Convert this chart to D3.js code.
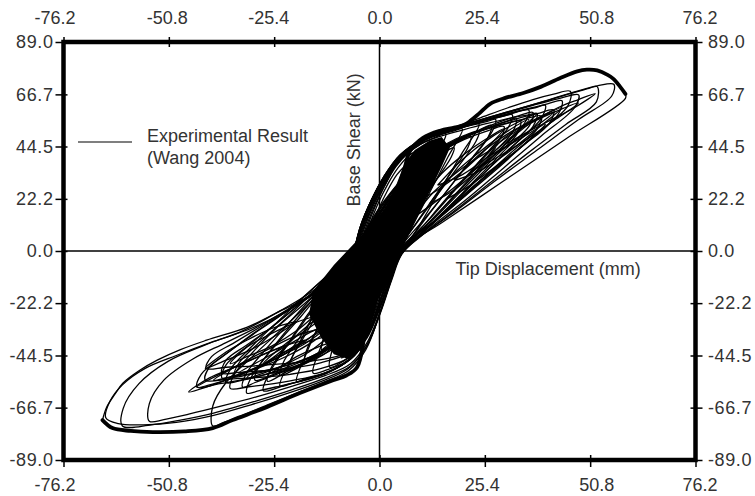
<!DOCTYPE html>
<html>
<head>
<meta charset="utf-8">
<script src="https://cdn.jsdelivr.net/npm/d3@7"></script>
<style>
  body { margin: 0; background: #fff; }
  svg { display: block; }
</style>
</head>
<body>
<svg id="chart"></svg>
<script>
// tick values (mm / kN)
const xTicks = [-76.2, -50.8, -25.4, 0, 25.4, 50.8, 76.2];
const yTicks = [-89.0, -66.7, -44.5, -22.2, 0, 22.2, 44.5, 66.7, 89.0];

// dense black band around the origin (many overlapping reloading branches)
const denseCore = [
  [-16, -17], [-11, -6], [-6.5, 2.5], [-2.5, 10], [1.5, 18], [4, 28], [6, 37], [8.5, 43],
  [12, 47], [15, 48.5], [17, 44], [15, 36], [12, 25], [9, 14], [6, 3], [4, -3], [2, -9],
  [0.5, -16], [-1, -25], [-2.5, -34], [-4.5, -42], [-7.5, -46], [-11, -44], [-14, -37], [-17, -27]
];

// hysteresis cycles, [displacement mm, base shear kN]
const loop1 = [[-2.5,0],[-1.2,7],[0.5,13],[2,17],[3,18.5],[2.3,11],[1.5,3],[0.6,-4],[-0.6,-11],[-2,-16],[-3,-18],[-2.8,-10],[-2.5,0]];
const loop2 = [[-3,0.5],[-1.7,8],[0.2,16],[2.2,23],[4,27.5],[5,29],[4,20],[3,11],[2,2],[0.8,-7],[-0.8,-16],[-2.7,-24],[-4.2,-28.5],[-5,-30],[-4.4,-20],[-3.7,-10],[-3,0.5]];
const loop3 = [[-3.5,0.5],[-2.2,9],[-0.2,18],[2,26],[4.2,32.5],[6,36],[7,37.5],[5.6,27],[4.2,16],[3,6],[2,-2],[0.5,-12],[-1.5,-23],[-3.7,-32],[-5.7,-37],[-7,-39],[-6.2,-28],[-5,-15],[-4,-5],[-3.5,0.5]];
const loop4 = [[-4,1],[-2.6,10],[-0.4,20],[2,28.5],[4.5,35.5],[7,40.5],[9,42.5],[7.4,31],[5.6,18],[4,6],[3,-1],[1.3,-10],[-0.7,-21],[-3,-32],[-5.5,-40],[-7.7,-44],[-9.2,-45.5],[-8.2,-35],[-7,-23],[-5.5,-10],[-4,1]];
const loop5 = [[-4.5,1],[-3,10],[-0.8,20],[1.6,29],[4,36],[6.8,41.5],[9.5,45],[12,47],[10,35],[7.8,22],[5.6,9],[3.8,0],[2,-9],[-0.2,-21],[-2.7,-33],[-5.5,-42],[-8.8,-47],[-12,-49.5],[-10.8,-38],[-9.2,-26],[-7.2,-13],[-4.5,1]];
const loop6 = [[-5,1],[-3.3,10],[-1,20],[1.6,29],[4.2,37],[7.3,42.5],[10.5,46],[13.5,48.5],[16,50],[13,38],[10.2,26],[7.5,14],[5,3],[4,-1],[2.2,-10],[0.2,-21],[-2.3,-33],[-5,-42],[-8.5,-47.5],[-12.5,-50.5],[-16,-52],[-14,-40],[-11.8,-28],[-9.5,-16],[-7,-6],[-5,1]];
const loop7 = [[-5.2,1],[-3.6,10],[-1.3,20],[1.3,29],[4,37],[7,43],[10.5,47],[14.5,49.5],[18,51.2],[20,52],[16.5,40],[13,28],[9.5,16],[6.2,5],[4.2,-1],[2.2,-10],[0,-22],[-2.5,-34],[-5.5,-43.5],[-9.5,-49],[-14,-52.5],[-18,-54.5],[-20,-55.5],[-17.5,-43],[-14.5,-31],[-11.5,-19],[-8.2,-8],[-5.2,1]];
const loop8 = [[-5.4,1],[-3.8,10],[-1.5,20],[1.2,29],[4,37],[7.5,43.5],[11.5,48],[16,50.5],[20,52.5],[24,54],[20,42],[16,30],[12,18],[8,6.5],[4.4,-1],[2.2,-11],[-0.2,-23],[-2.8,-35],[-6,-44.5],[-10.5,-50],[-15.5,-53.5],[-20.5,-56],[-24,-57.5],[-21,-45],[-17.5,-33],[-14,-21],[-10,-10],[-5.4,1]];
const loop9 = [[-5.5,1],[-4,10],[-1.6,20],[1.2,29.5],[4.2,37.5],[8,44],[12.5,48.5],[17.5,51.5],[22,53.5],[26,55.2],[28,56],[27.2,51],[22.5,40],[17.5,28.5],[12.5,17],[8,6.5],[4.5,-1],[2.2,-11],[-0.3,-23],[-3,-35.5],[-6.5,-45],[-11.5,-51],[-17,-54.5],[-22.5,-57],[-28,-59.5],[-27,-53.5],[-23,-42],[-18.5,-30],[-14,-19],[-9.5,-8.5],[-5.5,1]];
const loop10 = [[-5.6,1],[-4.1,10.5],[-1.7,20.5],[1.2,30],[4.4,38],[8.3,44.5],[13,49],[18.5,52],[24,54.8],[29,57],[32,58],[31.2,53],[26,42],[20.5,31],[15,20],[9.5,8.5],[4.6,-1],[2.4,-11],[-0.2,-23.5],[-3.1,-36],[-6.8,-45.5],[-12,-51.5],[-18,-55],[-24,-57.5],[-29,-59.5],[-32,-60.5],[-31,-54],[-27,-44],[-22,-33],[-16.5,-21.5],[-11,-10],[-5.6,1]];
const loop11 = [[-5.8,1],[-4.2,10.5],[-1.8,21],[1.1,30.5],[4.5,38.5],[8.5,45],[13.5,49.5],[19.5,52.5],[25.5,55.5],[31,58],[36,60],[35,54.5],[29.5,44],[23,32.5],[16.5,20.5],[10,8.5],[4.8,-1],[2.6,-11],[0,-24],[-3,-36.5],[-7,-46],[-12.5,-51.5],[-19,-54.5],[-25.5,-56.5],[-31.5,-57.8],[-36,-58.5],[-35,-52.5],[-30.5,-43],[-25,-33],[-17.5,-21.5],[-10,-9],[-5.8,1]];
const loop12 = [[-5.9,1],[-4.3,10.5],[-1.9,21],[1.1,30.5],[4.6,39],[9,45.5],[14.5,50],[21,53.5],[27,56.5],[33,59.3],[37.5,61],[40,62],[39,56.5],[33,46],[26,34.5],[19,22.5],[11.5,10],[5,-1],[2.7,-11],[0.1,-24],[-3,-37],[-7.5,-45.5],[-14,-50],[-21.5,-52.5],[-29,-53.8],[-36,-54.5],[-42,-55],[-41,-49.5],[-36,-42.5],[-29.5,-34],[-20.5,-23.5],[-11,-12],[-5.9,1]];
const loop13 = [[-6,1],[-4.4,11],[-2,21.5],[1,31],[4.6,39.5],[9.3,46],[15,50.5],[22,54],[29,57.5],[35.5,60.5],[40.5,62.7],[44,64],[43,58],[36.5,48],[29,36],[21,24],[12.5,11],[5.2,-1],[2.8,-11],[0.2,-24],[-3,-36],[-8,-43.5],[-15,-46.5],[-23,-48],[-31,-49],[-37,-49.5],[-41.8,-50],[-40.5,-45],[-35,-39],[-28,-31.5],[-19,-22],[-10,-10.5],[-5.5,1]];
const loop14 = [[-6,1],[-4.4,11],[-2,21.5],[1,31],[4.7,40],[9.5,46.5],[15.5,51],[23,55],[30,58.5],[37,62],[43,64.8],[48,66.5],[47,61],[39,49],[30,35.5],[21,22],[12,9.5],[5.5,-1],[3,-11],[0.3,-25],[-3,-39],[-7,-48],[-13,-53],[-21,-57.5],[-29.5,-62],[-38,-66],[-46,-69.5],[-52,-71.8],[-55.5,-72.5],[-55.5,-65],[-52,-55],[-45,-46],[-37,-39],[-28,-31],[-20,-22.5],[-11,-11],[-6,1]];
const loop15 = [[-6,1],[-4.5,11],[-2,21.5],[1,31.5],[4.8,40.5],[9.8,47],[16,51.5],[24,55.7],[32,59.8],[40,63.8],[46,67],[50.5,69.3],[52.5,70],[52.3,63.5],[45,54],[36,42],[27,29.5],[18,17],[10.5,7],[5.5,-1],[3,-12],[0.3,-26],[-3,-40],[-7,-49],[-13,-54],[-21,-59],[-30,-64],[-40,-69],[-48,-72],[-55,-74],[-62,-74.5],[-61.8,-67],[-58,-56.5],[-51,-47],[-42,-40],[-33,-34],[-24,-25.5],[-15,-15.5],[-6,1]];
const loop16 = [[-6,1],[-4.5,11],[-2,21.5],[1,31.5],[5,41],[10.5,47.5],[17,51.8],[25,56.2],[33,60.3],[41,64.5],[47.5,68],[52.5,70.3],[56.5,71],[56,66],[48,56],[38,43],[28,30],[18,16.5],[10,6.5],[5,-1],[2.8,-12],[0.2,-26],[-3.2,-41],[-7.5,-50],[-14,-55.5],[-22,-60.5],[-31,-65.5],[-40,-70],[-49,-73],[-57,-74],[-63,-73.5],[-66,-71],[-65,-64],[-62,-57],[-56.5,-50],[-49,-44.5],[-40,-38.5],[-31,-33],[-22,-25],[-14,-15.5],[-6,1]];
const loop17 = [[-6,1],[-4.5,11],[-2,21.5],[1,31.5],[5,41],[10.5,47.8],[17,52],[24,56.5],[31,61],[37,64.5],[42,66.8],[46,68],[45.5,62],[38,50],[29,37],[20,23.5],[11.5,9.5],[5.2,-1],[2.9,-12],[0.2,-26],[-3.3,-42],[-7.5,-51],[-13,-55.5],[-20,-60.5],[-27,-65.5],[-33,-70],[-37.5,-73],[-40.2,-74.5],[-40.2,-66],[-37,-56],[-31,-45.5],[-24,-34],[-17,-22.5],[-10,-10],[-6,1]];
// repeated cycles at the same amplitude (softer reloading)
const loop6c = [[-4.6,0],[-2.3,7],[0.3,14.5],[3.2,22],[6.5,29.5],[9.5,34.5],[12.5,38.5],[14,40],[13.3,36],[10.5,26],[7.5,15],[4.2,0.5],[2.3,-7],[0,-14.5],[-3,-22.5],[-6.3,-30],[-9.5,-36],[-12.5,-40],[-14,-42],[-13.3,-37],[-11,-28],[-8,-15],[-4.6,0]];
const loop7b = [[-4.8,0],[-2.5,7],[0,14],[3,22],[6.5,30],[10,36],[13.5,40.5],[16.5,43],[18,44],[17.3,40],[14,31],[10.5,21.5],[7,11.5],[4.2,0.5],[2.5,-7],[0,-15],[-3,-23],[-6.5,-31],[-10,-37.5],[-13.5,-42],[-16.5,-45],[-18,-46],[-17.3,-41],[-14.5,-32],[-11.5,-22],[-8,-10.5],[-4.8,0]];
const loop8b = [[-5,0],[-2.5,8],[0.5,16],[4,25],[8,33.5],[12,39.5],[16,44],[19.5,47],[22,48.8],[21.3,44],[17.5,34],[13,22.5],[8.5,11],[4.4,0.5],[2.6,-7.5],[0,-16],[-3.5,-25.5],[-7.5,-33.5],[-11.5,-39.5],[-15.5,-44.5],[-19,-48.5],[-22,-51],[-21.3,-46],[-18,-36],[-14,-24],[-9.5,-11.5],[-5,0]];
const loop8c = [[-5.1,0.5],[-2.5,9],[0.8,18],[4.5,27.5],[8.5,35.5],[12.5,41.5],[16.5,46],[20.5,49.2],[24,51],[23.2,46.5],[19,36],[14,24],[9,12],[4.5,0.5],[2.6,-8],[0,-17],[-3.8,-27],[-8,-35.5],[-12.5,-42],[-16.5,-46.5],[-20.5,-50.5],[-24,-53],[-23.2,-47.5],[-19.5,-37.5],[-15,-25.5],[-10,-12.5],[-5.1,0.5]];
const loop9b = [[-5.2,0],[-2.5,8.5],[0.8,17.5],[5,27.5],[9.5,35.5],[14,41.5],[18.5,46],[23,50.5],[27,53.5],[26.2,48.5],[21.5,37.5],[16,25],[10.5,13],[4.6,0.5],[2.7,-7.5],[0,-16.5],[-4,-27.5],[-8.5,-36],[-13,-42],[-18,-47.5],[-22.5,-51.5],[-27,-55.5],[-26.2,-50],[-22,-39.5],[-17,-27],[-11.5,-13.5],[-5.2,0]];
const loop9c = [[-5.3,0.5],[-2.5,9.5],[1,19],[5.5,29.5],[10.5,37.5],[15.5,43],[20.5,47.5],[25.5,50.8],[30,53],[29.2,48],[24,37.5],[18,25.5],[11.5,12.5],[4.6,0],[2.7,-8],[0,-17.5],[-4.2,-28.5],[-9,-37.5],[-14.5,-44],[-20,-49],[-25.5,-52.5],[-30,-55],[-29.2,-49.5],[-24.5,-39],[-19,-28],[-12.5,-14],[-5.3,0.5]];
const loop10b = [[-5.4,0],[-2.6,9],[1,18.5],[5.5,29],[10.5,37.5],[16,44],[21.5,49],[27,53],[31,55.5],[33,56.5],[32.2,51],[27,41],[20.5,28.5],[13.5,15],[7,3.5],[4.7,0],[2.8,-7.5],[0,-17],[-4.2,-28.5],[-9,-37.5],[-14.5,-44],[-20,-49],[-25.5,-53],[-30,-56],[-33,-58],[-32.2,-52.5],[-27.5,-42],[-21.5,-30],[-14.5,-16.5],[-9,-6.5],[-5.4,0]];
const loop10c = [[-5.5,0.5],[-2.6,10],[1,20],[6,31],[11.5,39.5],[17,45.5],[22.5,50],[28,53.2],[31.5,54.8],[34,55.5],[33.2,50],[27.5,39.5],[20.5,27],[13,13.5],[4.7,0],[2.8,-8.5],[0,-18],[-4.5,-29.5],[-10,-38.5],[-16,-44.5],[-22,-48.5],[-28,-51.5],[-32,-52.8],[-35,-53.5],[-34,-48],[-29,-39],[-23,-29.5],[-16,-17.5],[-5.5,0.5]];
const loop11b = [[-5.5,0],[-2.7,9.5],[1,19],[6,30],[11.5,39],[17.5,46],[23.5,51],[29,55],[33.5,57.5],[37,59],[36.2,53.5],[30.5,43.5],[23.5,31],[16,17.5],[8.5,5],[4.8,0],[2.8,-8],[0,-17.5],[-4.5,-29.5],[-9.5,-38],[-15.5,-44.5],[-21.5,-49],[-27.5,-52.5],[-33,-55],[-37,-56],[-36,-50.5],[-31,-41],[-24.5,-30],[-17,-17.5],[-10,-6.5],[-5.5,0]];
const loop11c = [[-5.6,0.5],[-2.7,10],[1,20.5],[6.5,32],[12.5,41],[19,47.5],[25,51.5],[31,54.5],[35.5,56.5],[39,57.5],[38,52],[31.5,41.5],[24,29.5],[15.5,16],[4.8,0],[2.8,-8.5],[0,-18.5],[-4.8,-30.5],[-10.5,-39.5],[-17,-45.5],[-24,-49.5],[-30.5,-52],[-35,-53.3],[-38,-54],[-37,-48.5],[-31.5,-40],[-25,-31],[-17,-19],[-5.6,0.5]];
const loop12b = [[-5.8,1],[-4.2,10.5],[-1.8,21],[1.1,30.5],[4.5,38.5],[8.5,44.5],[14,48.5],[20,51.5],[26,54.3],[32,56.8],[36,58],[38,58.6],[37,53],[31,43],[24.5,32],[18,21],[11,9],[4.9,-1],[2.6,-11],[0,-24],[-3,-36],[-7.5,-43.5],[-14,-47.5],[-21,-49.8],[-28,-51],[-34,-51.7],[-38,-52],[-37,-46.5],[-32,-40],[-26,-32.5],[-19.5,-23],[-12,-11.5],[-5.8,1]];
const loop13c = [[-5.8,0.5],[-2.8,10.5],[1,21],[6.5,32.5],[13,42],[20,48.5],[27,53],[33,56.3],[38,58.5],[42,60],[41,54.5],[34,44],[26,32],[17,18],[4.9,0],[2.9,-8.5],[0,-19],[-5,-32],[-11,-41.5],[-18,-47.5],[-25,-51.5],[-32,-54.5],[-38.5,-56.5],[-44,-58],[-43,-52.5],[-37.5,-44.5],[-30.5,-35.5],[-22,-25],[-5.8,0.5]];

// small partial cycles (leaf-shaped sub-loops) inside each lobe
const leafP1 = [[14,28],[20,39],[27,48.5],[33,54.5],[38,58.5],[33,50.5],[26,40],[20,32.5],[14,28]];
const leafP2 = [[18,30],[24,41],[31,50],[38,56.5],[44,61],[38,52],[31,42],[24,34],[18,30]];
const leafP3 = [[10,22],[15,33],[21,42],[26,48],[30,52],[26,44],[20,34],[14,26],[10,22]];
const leafP4 = [[22,34],[28,45],[35,53],[42,59],[48,63],[42,55.5],[35,47],[28,39.5],[22,34]];
const leafP5 = [[26,40],[30,48],[36,54.5],[42,59],[36,51],[30,44],[26,40]];
const leafP6 = [[12,20],[18,33],[24,42],[30,50],[36,56],[30,45],[24,35],[18,26],[12,20]];
const leafP7 = [[30,45],[36,54],[43,61],[48,64.5],[52,67],[47,61],[41,55.5],[35,50],[30,45]];
const leafP8 = [[8,14],[13,25],[19,34],[24,40],[28,44],[24,36.5],[18,27],[12,19],[8,14]];
const leafP9 = [[16,22],[22,33],[29,42.5],[35,49],[40,54],[35,45.5],[28,36],[21,27],[16,22]];
const leafN1 = [[-10,-30],[-16,-34],[-22,-40],[-28,-46],[-34,-52],[-28,-49],[-22,-44.5],[-16,-38.5],[-10,-30]];
const leafN2 = [[-14,-33],[-20,-36],[-27,-42],[-34,-48.5],[-40,-55],[-34,-52.5],[-27,-47.5],[-20,-41],[-14,-33]];
const leafN3 = [[-8,-24],[-13,-28],[-18,-34],[-23,-40],[-28,-48],[-23,-44],[-18,-39.5],[-13,-33],[-8,-24]];
const leafN4 = [[-18,-38],[-24,-41],[-31,-46.5],[-38,-52],[-44,-58],[-38,-55.5],[-31,-51],[-24,-45],[-18,-38]];
const leafN5 = [[-12,-36],[-18,-39],[-24,-44],[-28,-48.5],[-32,-54],[-28,-52],[-23,-48.5],[-17,-43],[-12,-36]];
const leafN6 = [[-20,-30],[-26,-33],[-32,-38],[-37,-43],[-42,-50],[-37,-46.5],[-31,-42],[-25,-36],[-20,-30]];
const leafN7 = [[-6,-20],[-11,-24],[-16,-30],[-20,-36],[-24,-44],[-20,-40],[-15,-35],[-10,-28],[-6,-20]];
const leafN8 = [[-16,-28],[-21,-31],[-27,-36],[-32,-41],[-36,-48],[-32,-45],[-26,-40.5],[-20,-34],[-16,-28]];
const leafN9 = [[-22,-40],[-28,-44],[-35,-49.5],[-41,-54],[-46,-60],[-41,-57.5],[-34,-53],[-27,-47],[-22,-40]];
const leafN10 = [[-10,-38],[-15,-41],[-20,-45],[-23,-48.5],[-26,-52],[-23,-51],[-18,-48],[-13,-43.5],[-10,-38]];

// first (envelope) excursion, drawn heavier
const posEnvelope = [[0,-3],[1,5],[2.2,13],[4.2,25],[6,35],[7.4,42.7],[10.5,48.2],[14.6,51.2],[18,52.5],[20.2,53.5],[21.9,55.4],[24,58.5],[26.7,62.7],[30,65],[34.7,67.3],[39,70],[43.6,73.7],[47.7,76.5],[50,77.2],[52.5,76.9],[55,75],[56.4,73.3],[58,70],[59.3,66.9]];
const posUnload = [[59.3,66.9],[59.3,65],[45,47.8],[30,29.9],[15,12],[4.9,0.2],[2.5,-8],[0.5,-16]];
const negEnvelope = [[0.5,-12],[-0.5,-16],[-1.6,-19],[-3.5,-35],[-5.4,-49.5],[-8,-53],[-11.2,-55],[-19.2,-60.5],[-27.2,-66.5],[-35.4,-72],[-40.2,-75.4],[-47,-76.8],[-54.7,-77.1],[-60,-76.6],[-64.4,-75.4],[-66.8,-72]];
const negUnload = [[-66.8,-72],[-65.8,-66.5],[-63.8,-61],[-61.9,-56.3],[-58,-51],[-53.6,-46.5],[-48,-42],[-41.7,-38],[-32,-32.5],[-25,-26.5],[-17.5,-19.8],[-9.5,-9.6],[-4.7,1.5],[-2,12]];

const loops = [loop1, loop2, loop3, loop4, loop5, loop6, loop7, loop8, loop9, loop10,
  loop11, loop12, loop13, loop14, loop15, loop16, loop17,
  loop6c, loop7b, loop8b, loop8c, loop9b, loop9c, loop10b, loop10c, loop11b, loop11c, loop12b, loop13c];
const leaves = [leafP1, leafP2, leafP3, leafP4, leafP5, leafP6, leafP7, leafP8, leafP9,
  leafN1, leafN2, leafN3, leafN4, leafN5, leafN6, leafN7, leafN8, leafN9, leafN10];

const legendLabel = ["Experimental Result", "(Wang 2004)"];

const width = 755, height = 496;
const margin = { top: 42, right: 59.5, bottom: 36, left: 63.5 };
const font = "'Liberation Sans', Arial, sans-serif";
// the printed x labels sit slightly off their ticks in the original
const xLabelShift = [-9, -2, -6, 0, -3, 6, 4];

const svg = d3.select("#chart")
  .attr("width", width)
  .attr("height", height)
  .attr("viewBox", `0 0 ${width} ${height}`);

const x = d3.scaleLinear().domain([-76.2, 76.2]).range([margin.left, width - margin.right]);
const y = d3.scaleLinear().domain([-89, 89]).range([height - margin.bottom, margin.top]);

const line = d3.line()
  .x(d => x(d[0]))
  .y(d => y(d[1]))
  .curve(d3.curveCatmullRom.alpha(0.5));

// dense core
svg.append("path")
  .attr("d", d3.line().x(d => x(d[0])).y(d => y(d[1])).curve(d3.curveLinearClosed)(denseCore))
  .attr("fill", "#000");

// cycles
svg.append("g")
  .selectAll("path")
  .data(loops.concat(leaves))
  .join("path")
  .attr("d", line)
  .attr("fill", "none")
  .attr("stroke", "#000")
  .attr("stroke-width", 1.3)
  .attr("stroke-linejoin", "round");

// envelope excursion
[posUnload, negUnload].forEach(seg => {
  svg.append("path").attr("d", line(seg))
    .attr("fill", "none").attr("stroke", "#000").attr("stroke-width", 1.3);
});
[posEnvelope, negEnvelope].forEach(seg => {
  svg.append("path").attr("d", line(seg))
    .attr("fill", "none").attr("stroke", "#000").attr("stroke-width", 3.8)
    .attr("stroke-linecap", "round").attr("stroke-linejoin", "round");
});

// zero lines
svg.append("line")
  .attr("x1", x(-76.2)).attr("x2", x(76.2))
  .attr("y1", y(0)).attr("y2", y(0))
  .attr("stroke", "#000").attr("stroke-width", 1.5);
svg.append("line")
  .attr("x1", x(0)).attr("x2", x(0))
  .attr("y1", y(89)).attr("y2", y(-89))
  .attr("stroke", "#000").attr("stroke-width", 1.5);

// axes on all four sides (plain hyphen for negatives, as printed)
const fmt = d => d.toFixed(1);
function styleAxis(g) {
  g.select(".domain").remove();
  g.selectAll(".tick line").attr("stroke", "#000").attr("stroke-width", 1.5);
  g.selectAll(".tick text")
    .attr("fill", "#333")
    .attr("font-size", 18)
    .attr("font-family", font);
}

svg.append("g")
  .attr("transform", `translate(0,${y(89)})`)
  .call(d3.axisTop(x).tickValues(xTicks).tickFormat(fmt))
  .call(styleAxis)
  .call(g => g.selectAll(".tick line").attr("y1", 5).attr("y2", -5))
  .call(g => g.selectAll(".tick text").attr("y", -18).attr("dy", null).attr("dx", (d, i) => xLabelShift[i]));

svg.append("g")
  .attr("transform", `translate(0,${y(-89)})`)
  .call(d3.axisBottom(x).tickValues(xTicks).tickFormat(fmt))
  .call(styleAxis)
  .call(g => g.selectAll(".tick line").attr("y1", -5).attr("y2", 7))
  .call(g => g.selectAll(".tick text").attr("y", 31).attr("dy", null).attr("dx", (d, i) => xLabelShift[i]));

svg.append("g")
  .attr("transform", `translate(${x(-76.2)},0)`)
  .call(d3.axisLeft(y).tickValues(yTicks).tickFormat(fmt))
  .call(styleAxis)
  .call(g => g.selectAll(".tick line").attr("x1", 4).attr("x2", -8))
  .call(g => g.selectAll(".tick text").attr("x", -10).attr("dy", "0.32em").attr("letter-spacing", 0.6));

svg.append("g")
  .attr("transform", `translate(${x(76.2)},0)`)
  .call(d3.axisRight(y).tickValues(yTicks).tickFormat(fmt))
  .call(styleAxis)
  .call(g => g.selectAll(".tick line").attr("x1", -5).attr("x2", 7))
  .call(g => g.selectAll(".tick text").attr("x", 12.5).attr("dy", "0.32em").attr("letter-spacing", 0.6));

// frame
svg.append("rect")
  .attr("x", x(-76.2)).attr("y", y(89))
  .attr("width", x(76.2) - x(-76.2))
  .attr("height", y(-89) - y(89))
  .attr("fill", "none").attr("stroke", "#000").attr("stroke-width", 4.5);

// axis titles
svg.append("text")
  .attr("transform", `translate(${x(0) - 19.5},${y(19)}) rotate(-90)`)
  .attr("font-family", font).attr("font-size", 18).attr("fill", "#333")
  .text("Base Shear (kN)");

svg.append("text")
  .attr("x", x(18.3)).attr("y", y(-10.3))
  .attr("font-family", font).attr("font-size", 18).attr("fill", "#333")
  .text("Tip Displacement (mm)");

// legend
svg.append("line")
  .attr("x1", 78).attr("x2", 132).attr("y1", 142).attr("y2", 142)
  .attr("stroke", "#000").attr("stroke-width", 1.2);
svg.append("text")
  .attr("font-family", font).attr("font-size", 18).attr("fill", "#333")
  .selectAll("tspan")
  .data(legendLabel)
  .join("tspan")
  .attr("x", 147)
  .attr("y", (d, i) => 142 + i * 21.5)
  .text(d => d);
</script>
</body>
</html>
